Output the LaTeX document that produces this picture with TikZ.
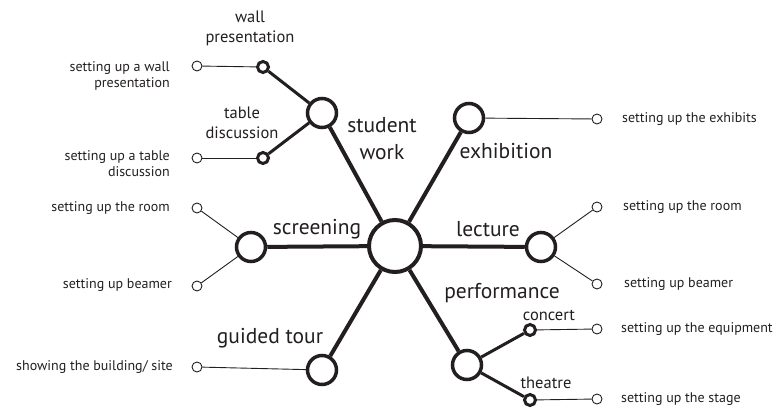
\documentclass[tikz,border=0pt]{standalone}
\usepackage{fontspec}
\setmainfont{PT Sans}
\definecolor{ink}{RGB}{35,31,32}
\begin{document}
\begin{tikzpicture}[x=1pt,y=-1pt,
  hub/.style={circle,draw=ink,fill=white,line width=4pt,minimum size=52pt,inner sep=0pt},
  mid/.style={circle,draw=ink,fill=white,line width=3.5pt,minimum size=29pt,inner sep=0pt},
  sub/.style={circle,draw=ink,fill=white,line width=3pt,minimum size=11pt,inner sep=0pt},
  leaf/.style={circle,draw=ink,fill=white,line width=0.9pt,minimum size=10pt,inner sep=0pt},
  spoke/.style={draw=ink,line width=4pt},
  subspoke/.style={draw=ink,line width=3pt},
  thin/.style={draw=ink,line width=0.9pt},
  big/.style={font=\fontsize{21.5}{27}\selectfont,text=ink,inner sep=0pt},
  small/.style={font=\fontsize{14}{16}\selectfont,text=ink,inner sep=0pt},
  mtext/.style={font=\fontsize{16.5}{20}\selectfont,text=ink,inner sep=0pt,align=center}]
\useasboundingbox (0,0) rectangle (781,409);
% nodes
\node[hub] (c) at (395,246) {};
\node[mid] (sw) at (322,113) {};
\node[mid] (ex) at (469,118) {};
\node[mid] (sc) at (251,247) {};
\node[mid] (le) at (541,247) {};
\node[mid] (gt) at (322,370) {};
\node[mid] (pf) at (467,365) {};
\node[sub] (wp) at (263,67) {};
\node[sub] (td) at (263,158) {};
\node[sub] (co) at (530,330) {};
\node[sub] (th) at (530,400) {};
\node[leaf] (lwp) at (197,66) {};
\node[leaf] (ltd) at (197,158) {};
\node[leaf] (lsr) at (197,208) {};
\node[leaf] (lsb) at (197,286) {};
\node[leaf] (lgt) at (197,367) {};
\node[leaf] (lex) at (597,119) {};
\node[leaf] (llr) at (597,207) {};
\node[leaf] (llb) at (597,284) {};
\node[leaf] (lco) at (597,329) {};
\node[leaf] (lth) at (597,399) {};
% connectors
\draw[spoke] (c) -- (sw);
\draw[spoke] (c) -- (ex);
\draw[spoke] (c) -- (sc);
\draw[spoke] (c) -- (le);
\draw[spoke] (c) -- (gt);
\draw[spoke] (c) -- (pf);
\draw[subspoke] (sw) -- (wp);
\draw[subspoke] (sw) -- (td);
\draw[subspoke] (pf) -- (co);
\draw[subspoke] (pf) -- (th);
\draw[thin] (wp) -- (lwp);
\draw[thin] (td) -- (ltd);
\draw[thin] (sc) -- (lsr);
\draw[thin] (sc) -- (lsb);
\draw[thin] (gt) -- (lgt);
\draw[thin] (ex) -- (lex);
\draw[thin] (le) -- (llr);
\draw[thin] (le) -- (llb);
\draw[thin] (co) -- (lco);
\draw[thin] (th) -- (lth);
% labels
\node[big,align=center] (tsw) at (382,139) {student\\work};
\node[big] (tex) at (506,151) {exhibition};
\node[big] (tsc) at (317,229) {screening};
\node[big] (tle) at (488,229) {lecture};
\node[big] (tgt) at (270,338) {guided tour};
\node[big] (tpf) at (502,293) {performance};
\node[mtext] (twp) at (250,28) {wall\\presentation};
\node[mtext] (ttd) at (242,123) {table\\discussion};
\node[mtext] (tco) at (549,315) {concert};
\node[mtext] (tth) at (546,383) {theatre};
\node[small,anchor=east,align=right] (s1) at (170,76) {setting up a wall\\presentation};
\node[small,anchor=east,align=right] (s2) at (170,164) {setting up a table\\discussion};
\node[small,anchor=east] (s3) at (170,208) {setting up the room};
\node[small,anchor=east] (s4) at (172,285) {setting up beamer};
\node[small,anchor=east] (s5) at (173,367) {showing the building/ site};
\node[small,anchor=west] (s6) at (622,119) {setting up the exhibits};
\node[small,anchor=west] (s7) at (623,207) {setting up the room};
\node[small,anchor=west] (s8) at (624,284) {setting up beamer};
\node[small,anchor=west] (s9) at (621,329) {setting up the equipment};
\node[small,anchor=west] (s10) at (621,399) {setting up the stage};
\end{tikzpicture}
\end{document}
